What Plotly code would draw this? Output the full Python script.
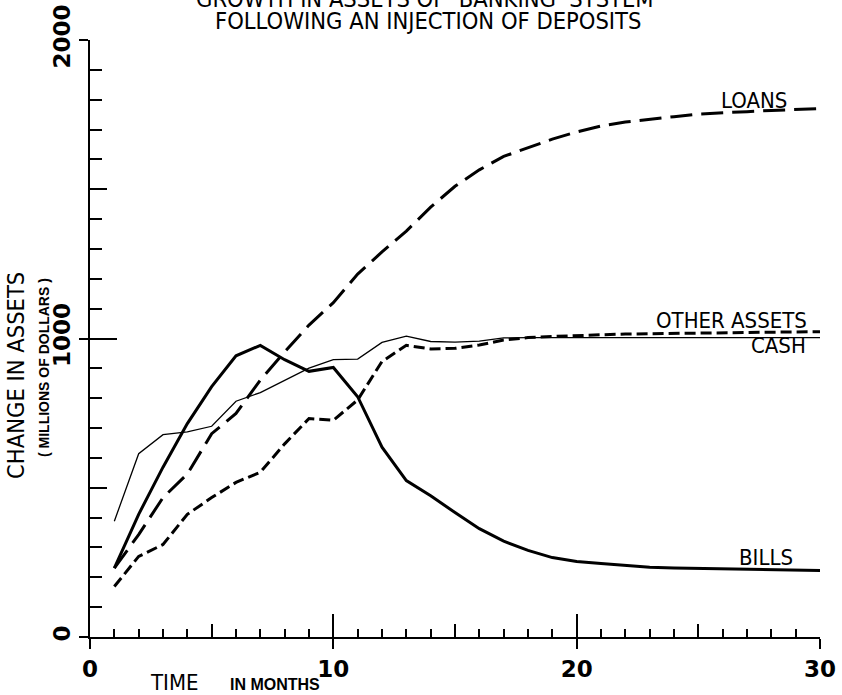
import plotly.graph_objects as go

# ---- data ----
months = list(range(1, 31))
loans = [231, 343, 467, 546, 681, 749, 861, 955, 1045, 1120, 1216, 1290, 1360, 1440, 1510,
         1565, 1610, 1640, 1668, 1692, 1712, 1725, 1735, 1743, 1752, 1757, 1760, 1764, 1767, 1770]
other_assets = [169, 270, 310, 411, 467, 518, 552, 647, 732, 726, 794, 923, 977, 965, 967,
                978, 995, 1003, 1007, 1010, 1013, 1015, 1016, 1017, 1018, 1019, 1020, 1021, 1022, 1023]
cash = [388, 614, 678, 687, 706, 790, 819, 861, 901, 929, 931, 987, 1008, 990, 988,
        991, 1002, 1003, 1003, 1003, 1003, 1003, 1003, 1003, 1003, 1003, 1003, 1003, 1003, 1003]
bills = [231, 411, 569, 715, 839, 942, 977, 929, 890, 903, 805, 636, 524, 473, 417,
         363, 321, 290, 266, 253, 246, 240, 234, 231, 230, 229, 228, 226, 224, 223]

x_ticks = [0, 10, 20, 30]
y_ticks = [0, 1000, 2000]

NARROW = "Liberation Sans Narrow, DejaVu Sans Condensed, Arial Narrow, sans-serif"
WIDE = "Liberation Sans, Arial, sans-serif"
NUM = "DejaVu Sans, Verdana, sans-serif"

fig = go.Figure()
fig.add_trace(go.Scatter(x=months, y=loans, mode="lines", name="LOANS",
                         line=dict(color="black", width=3, dash="22px,9px")))
fig.add_trace(go.Scatter(x=months, y=other_assets, mode="lines", name="OTHER ASSETS",
                         line=dict(color="black", width=3, dash="11px,5px")))
fig.add_trace(go.Scatter(x=months, y=cash, mode="lines", name="CASH",
                         line=dict(color="black", width=1.3)))
fig.add_trace(go.Scatter(x=months, y=bills, mode="lines", name="BILLS",
                         line=dict(color="black", width=3)))

# invisible helper traces so the overlaid tick-only axes get drawn
for xa, ya in [("x2", "y"), ("x3", "y"), ("x", "y2"), ("x", "y3")]:
    fig.add_trace(go.Scatter(x=[months[0]], y=[cash[0]], xaxis=xa, yaxis=ya, mode="markers",
                             marker=dict(opacity=0, size=1), hoverinfo="skip", showlegend=False))

common = dict(showgrid=False, zeroline=False, fixedrange=True, automargin=False)
numfont = dict(family=NUM, size=23, color="black", weight="bold")

fig.update_layout(
    width=842, height=695,
    margin=dict(l=90, r=22, t=40, b=58),
    paper_bgcolor="white", plot_bgcolor="white",
    showlegend=False,
    xaxis=dict(range=[0, 30], showline=True, linewidth=2, linecolor="black",
               ticks="outside", ticklen=10, tickwidth=2, tickcolor="black",
               tickvals=x_ticks, ticktext=[str(v) for v in x_ticks],
               tickfont=numfont, **common),
    xaxis2=dict(range=[0, 30], overlaying="x", anchor="y", showline=False,
                ticks="inside", tick0=0, dtick=10, ticklen=23, tickwidth=2, tickcolor="black",
                showticklabels=False,
                minor=dict(ticks="inside", tick0=0, dtick=1, ticklen=8, tickwidth=2, tickcolor="black"),
                **common),
    xaxis3=dict(range=[0, 30], overlaying="x", anchor="y", showline=False,
                ticks="inside", tickvals=[5, 15, 25], ticklen=13, tickwidth=2, tickcolor="black",
                showticklabels=False, **common),
    yaxis=dict(range=[0, 2000], showline=True, linewidth=2, linecolor="black",
               ticks="outside", ticklen=9, tickwidth=2, tickcolor="black",
               tickvals=y_ticks, ticktext=[str(v) for v in y_ticks], tickangle=-90,
               tickfont=numfont, **common),
    yaxis2=dict(range=[0, 2000], overlaying="y", anchor="x", showline=False,
                ticks="inside", tick0=0, dtick=1000, ticklen=27, tickwidth=2, tickcolor="black",
                showticklabels=False,
                minor=dict(ticks="inside", tick0=0, dtick=100, ticklen=12, tickwidth=2, tickcolor="black"),
                **common),
    yaxis3=dict(range=[0, 2000], overlaying="y", anchor="x", showline=False,
                ticks="inside", tickvals=[500, 1500], ticklen=17, tickwidth=2, tickcolor="black",
                showticklabels=False, **common),
)

def lab(text, x, y, size, family=NARROW, xref="x", yref="y", angle=0, bold=False):
    fig.add_annotation(text=("<b>%s</b>" % text) if bold else text, x=x, y=y, xref=xref, yref=yref,
                       showarrow=False, xanchor="center", yanchor="middle", textangle=angle,
                       font=dict(family=family, size=size, color="black"))

# series labels
lab("LOANS", 27.3, 1799, 22)
lab("OTHER ASSETS", 26.35, 1059, 22)
lab("CASH", 28.28, 975, 22)
lab("BILLS", 27.8, 265, 22)

# title (first line cropped at the top, as in the reference)
lab("GROWTH IN ASSETS OF  BANKING  SYSTEM", 0.459, 1.0695, 23.5, xref="paper", yref="paper")
lab("FOLLOWING AN INJECTION OF DEPOSITS", 0.463, 1.0318, 23.5, xref="paper", yref="paper")

# axis titles
lab("CHANGE IN ASSETS", -0.1014, 0.439, 23.5, xref="paper", yref="paper", angle=-90)
lab("( MILLIONS OF DOLLARS )", -0.063, 0.4506, 14, family=WIDE, xref="paper", yref="paper", angle=-90, bold=True)
lab("TIME", 0.1164, -0.0754, 22, xref="paper", yref="paper")
lab("IN MONTHS", 0.2534, -0.0804, 16, family=WIDE, xref="paper", yref="paper", bold=True)

fig.write_html("out.html", config={"displayModeBar": False},
               post_script="document.body.style.margin='0px';")
